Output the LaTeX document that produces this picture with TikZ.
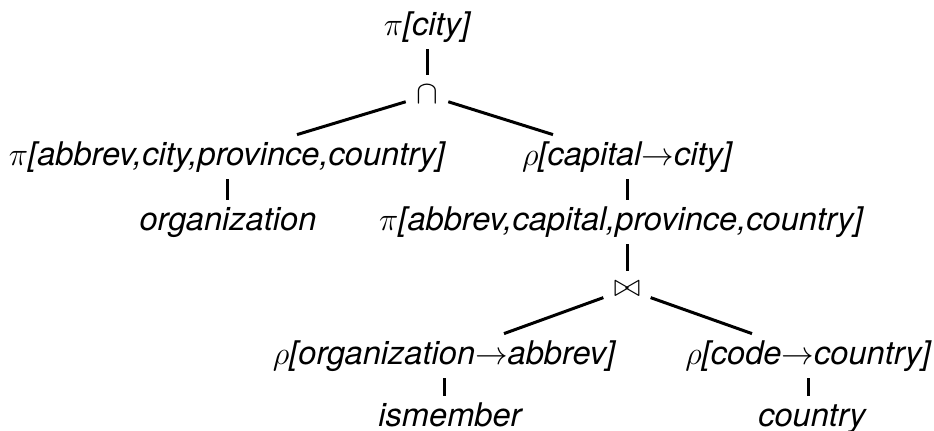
\RequirePackage{fix-cm}
\documentclass[tikz,border=0pt]{standalone}
\usepackage{fontspec}
\setmainfont{TeX Gyre Heros}
\begin{document}
\begin{tikzpicture}[x=0.5pt,y=-0.5pt,
    every node/.style={font=\fontsize{16.3}{19}\selectfont\itshape},
    lbl/.style={inner xsep=0pt,inner ysep=3.5pt,text height=11.5pt,text depth=3.5pt},
    op/.style={inner sep=5pt},
    edge/.style={line width=1.5pt}]
  \useasboundingbox (0,0) rectangle (934,430);
  \node[lbl] (pcity) at (427,27) {$\pi$[city]};
  \node[op] (cap) at (427,94) {$\cap$};
  \node[lbl] (pleft) at (227,157) {$\pi$[abbrev,city,province,country]};
  \node[lbl] (rcap) at (627,157) {$\rho$[capital$\rightarrow$city]};
  \node[lbl] (org) at (228,222) {organization};
  \node[lbl] (pright) at (621,222) {$\pi$[abbrev,capital,province,country]};
  \node[op] (join) at (627,289) {$\bowtie$};
  \node[lbl] (rorg) at (444,356) {$\rho$[organization$\rightarrow$abbrev]};
  \node[lbl] (rcode) at (808,356) {$\rho$[code$\rightarrow$country]};
  \node[lbl] (ism) at (450,418) {ismember};
  \node[lbl] (ctry) at (812,418) {country};
  % tree edges
  \draw[edge] (pcity.south) -- (cap.north);
  \draw[edge] (cap.200) -- ([xshift=35pt]pleft.north);
  \draw[edge] (cap.-20) -- ([xshift=-37pt]rcap.north);
  \draw[edge] (pleft.south) -- (pleft.south |- org.north);
  \draw[edge] (rcap.south) -- (rcap.south |- pright.north);
  \draw[edge] (pright.south -| rcap.south) -- (join.north);
  \draw[edge] (join.200) -- ([xshift=30pt]rorg.north);
  \draw[edge] (join.-20) -- ([xshift=-28pt]rcode.north);
  \draw[edge] (rorg.south) -- (rorg.south |- ism.north);
  \draw[edge] (rcode.south) -- (rcode.south |- ctry.north);
\end{tikzpicture}
\end{document}
